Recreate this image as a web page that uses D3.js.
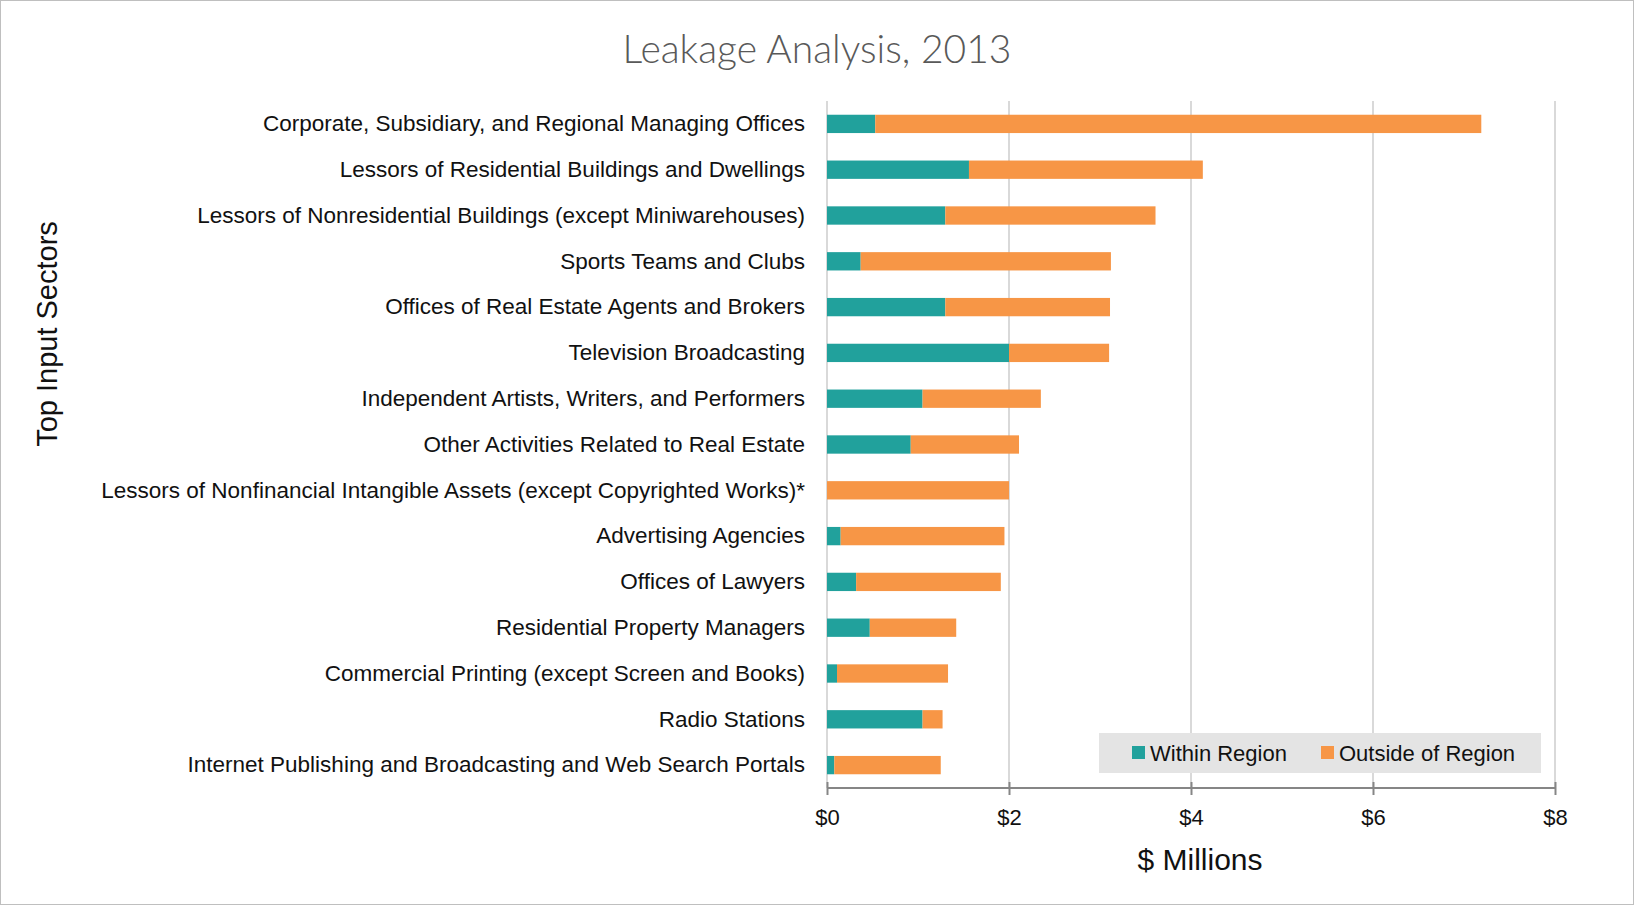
<!DOCTYPE html>
<html>
<head>
<meta charset="utf-8">
<script src="https://cdn.jsdelivr.net/npm/d3@7"></script>
<style>
  body { margin: 0; background: #fff; }
  .cat text { font-family: "Liberation Sans", sans-serif; font-size: 22.5px; fill: #111; }
  .xAxis text { font-family: "Liberation Sans", sans-serif; font-size: 22px; fill: #111; }
</style>
</head>
<body>
<div class="barchart"></div>
<script>

// Sectors, top to bottom
var sectors = [
    "Corporate, Subsidiary, and Regional Managing Offices",
    "Lessors of Residential Buildings and Dwellings",
    "Lessors of Nonresidential Buildings (except Miniwarehouses)",
    "Sports Teams and Clubs",
    "Offices of Real Estate Agents and Brokers",
    "Television Broadcasting",
    "Independent Artists, Writers, and Performers",
    "Other Activities Related to Real Estate",
    "Lessors of Nonfinancial Intangible Assets (except Copyrighted Works)*",
    "Advertising Agencies",
    "Offices of Lawyers",
    "Residential Property Managers",
    "Commercial Printing (except Screen and Books)",
    "Radio Stations",
    "Internet Publishing and Broadcasting and Web Search Portals"
];

// $ millions
var withinRegion = [0.53, 1.56, 1.30, 0.37, 1.30, 2.00, 1.05, 0.92, 0.00, 0.15, 0.32, 0.47, 0.11, 1.05, 0.08];
var outsideRegion = [6.66, 2.57, 2.31, 2.75, 1.81, 1.10, 1.30, 1.19, 2.00, 1.80, 1.59, 0.95, 1.22, 0.22, 1.17];

var xTicks = [0, 2, 4, 6, 8];
var seriesNames = ["Within Region", "Outside of Region"];
var colors = ["#21a19c", "#f79646"];

var W = 1634, H = 905;
var margin = {top: 101, right: 79, bottom: 117, left: 827};
var width = W - margin.left - margin.right;
var height = H - margin.top - margin.bottom;

var svg = d3.select(".barchart")
    .append("svg")
      .attr("width", W)
      .attr("height", H);

// Chart border
svg.append("rect")
    .attr("x", 0.5).attr("y", 0.5)
    .attr("width", W - 1).attr("height", H - 1)
    .style("fill", "#fff")
    .style("stroke", "#bfbfbf");

svg.append("text")
    .attr("x", 817)
    .attr("y", 63)
    .attr("text-anchor", "middle")
    .style("font-family", "Lato, sans-serif")
    .style("font-weight", 300)
    .style("font-size", "39px")
    .style("fill", "#595959")
    .text("Leakage Analysis, 2013");

var g = svg.append("g")
    .attr("transform", "translate(" + margin.left + "," + margin.top + ")");

var x = d3.scaleLinear()
    .domain([0, 8])
    .range([0, width]);

var y = d3.scaleBand()
    .domain(sectors)
    .range([0, height])
    .paddingInner(0.6)
    .paddingOuter(0.3);

// Gridlines
g.selectAll(".grid")
    .data(xTicks)
    .enter().append("line")
      .attr("class", "grid")
      .attr("x1", function(d) { return x(d); })
      .attr("x2", function(d) { return x(d); })
      .attr("y1", 0)
      .attr("y2", height)
      .style("stroke", "#d9d9d9")
      .style("stroke-width", 2);

// Stack the two series
var rows = sectors.map(function(s, i) {
    return {sector: s, within: withinRegion[i], outside: outsideRegion[i]};
});
var stack = d3.stack().keys(["within", "outside"])(rows);

g.selectAll(".series")
    .data(stack)
    .enter().append("g")
      .attr("class", "series")
      .style("fill", function(d, i) { return colors[i]; })
    .selectAll("rect")
    .data(function(d) { return d; })
    .enter().append("rect")
      .attr("x", function(d) { return x(d[0]); })
      .attr("y", function(d) { return y(d.data.sector); })
      .attr("width", function(d) { return x(d[1]) - x(d[0]); })
      .attr("height", y.bandwidth());

// Category labels
var yAxis = d3.axisLeft(y).tickSize(0).tickPadding(22);
g.append("g")
    .attr("class", "cat")
    .call(yAxis)
    .call(function(a) { a.select(".domain").remove(); });

// X axis
var xAxis = d3.axisBottom(x)
    .tickValues(xTicks)
    .tickSize(7)
    .tickPadding(14)
    .tickFormat(function(d) { return "$" + d; });

var xa = g.append("g")
    .attr("class", "xAxis")
    .attr("transform", "translate(0," + height + ")")
    .call(xAxis);
xa.select(".domain").style("stroke", "#868686").style("stroke-width", 2).attr("d", "M0,0H" + width);
xa.selectAll(".tick line").attr("y1", -6).style("stroke", "#868686").style("stroke-width", 2);

svg.append("text")
    .attr("x", 1200)
    .attr("y", 870)
    .attr("text-anchor", "middle")
    .style("font-family", "Liberation Sans, sans-serif")
    .style("font-size", "30px")
    .style("fill", "#111")
    .text("$ Millions");

svg.append("text")
    .attr("transform", "translate(57,334) rotate(-90)")
    .attr("text-anchor", "middle")
    .style("font-family", "Liberation Sans, sans-serif")
    .style("font-size", "29px")
    .style("fill", "#111")
    .text("Top Input Sectors");

// Legend
var legend = svg.append("g").attr("transform", "translate(1099,733)");
legend.append("rect")
    .attr("width", 442).attr("height", 40)
    .style("fill", "#e4e4e4");
var legX = [33, 222];
var items = legend.selectAll(".item")
    .data(seriesNames)
    .enter().append("g")
      .attr("class", "item")
      .attr("transform", function(d, i) { return "translate(" + legX[i] + ",0)"; });
items.append("rect")
    .attr("y", 13).attr("width", 13).attr("height", 13)
    .style("fill", function(d, i) { return colors[i]; });
items.append("text")
    .attr("x", 18).attr("y", 28)
    .style("font-family", "Liberation Sans, sans-serif")
    .style("font-size", "22px")
    .style("fill", "#111")
    .text(function(d) { return d; });

</script>
</body>
</html>
